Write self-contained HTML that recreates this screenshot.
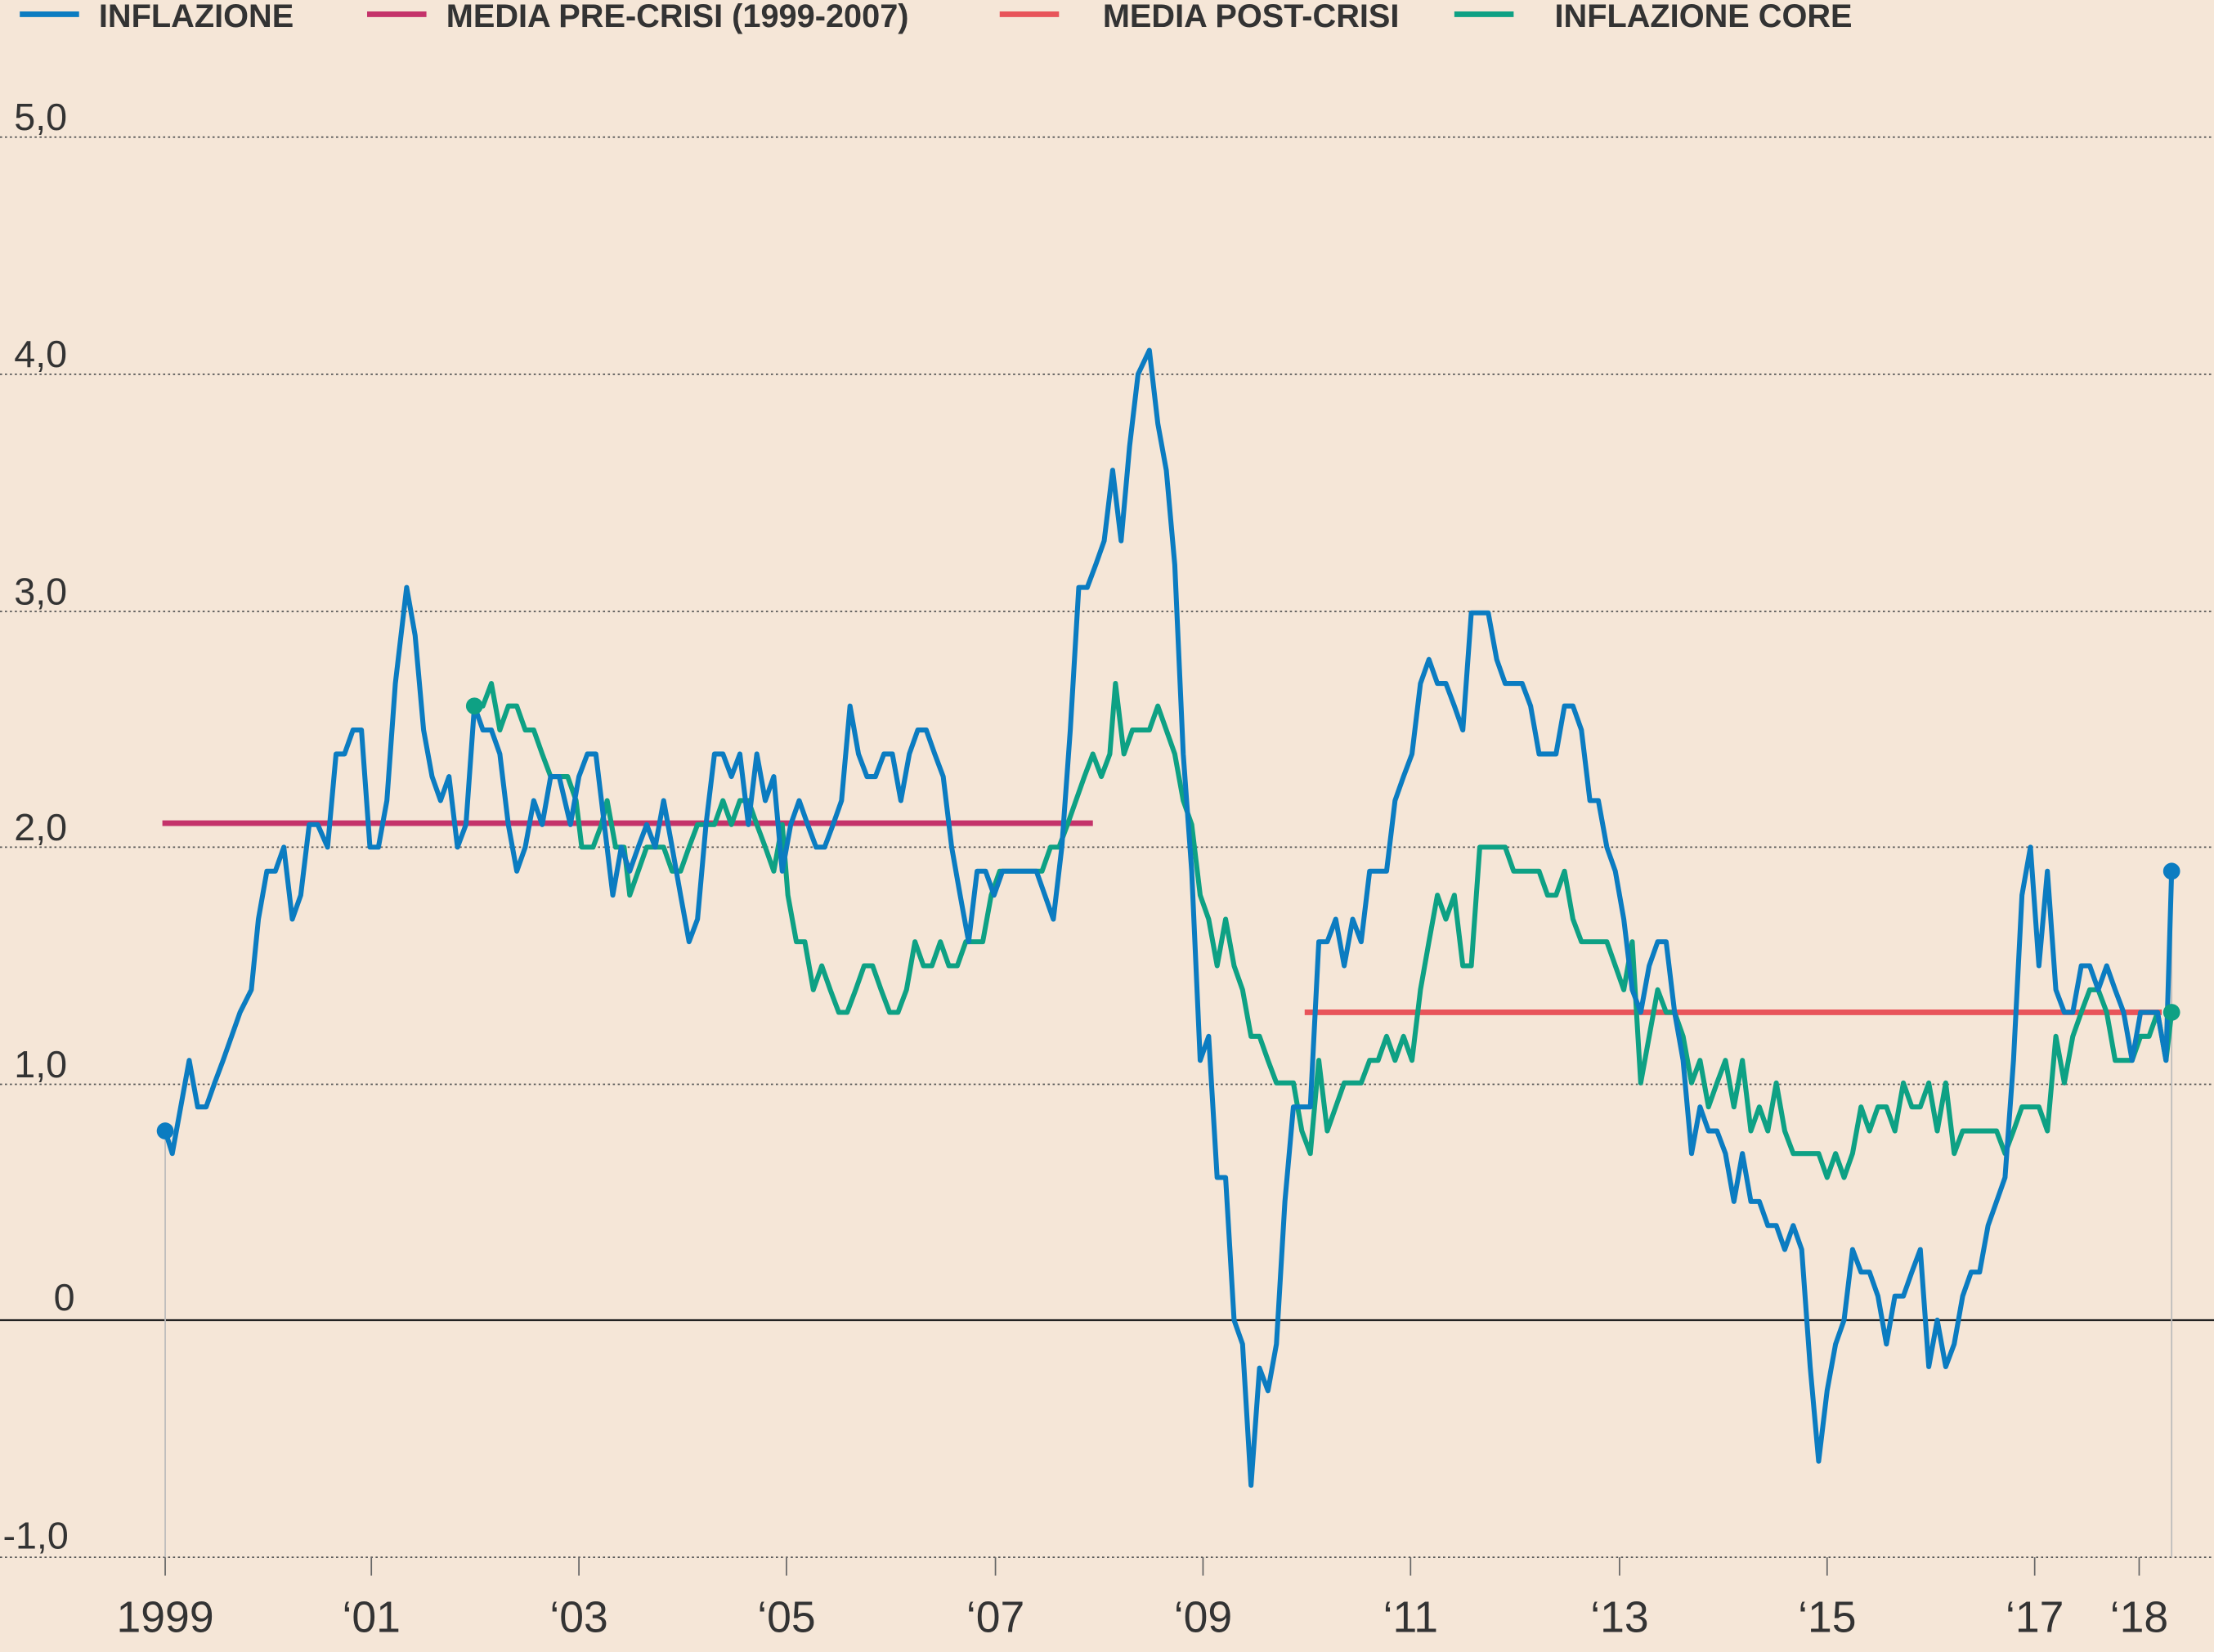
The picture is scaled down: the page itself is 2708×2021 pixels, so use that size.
<!DOCTYPE html>
<html><head><meta charset="utf-8"><style>
html,body{margin:0;padding:0;background:#f5e6d7;}
svg{display:block;}
text{font-family:"Liberation Sans",sans-serif;fill:#333;}
</style></head><body>
<svg width="2708" height="2021" viewBox="0 0 1568 1170" xmlns="http://www.w3.org/2000/svg">
<rect width="1568" height="1170" fill="#f5e6d7"/>
<g stroke="#555" stroke-width="1" stroke-dasharray="1.5,2">
<line x1="0" y1="97" x2="1568" y2="97"/><line x1="0" y1="265" x2="1568" y2="265"/>
<line x1="0" y1="433" x2="1568" y2="433"/><line x1="0" y1="600" x2="1568" y2="600"/>
<line x1="0" y1="768" x2="1568" y2="768"/><line x1="0" y1="1103" x2="1568" y2="1103"/>
</g>
<line x1="0" y1="935" x2="1568" y2="935" stroke="#222" stroke-width="1.3"/>
<g font-size="27">
<text x="10" y="92">5,0</text><text x="10" y="260">4,0</text><text x="10" y="428">3,0</text>
<text x="10" y="595">2,0</text><text x="10" y="763">1,0</text><text x="38" y="928">0</text><text x="2" y="1097">-1,0</text>
</g>
<g stroke="#666" stroke-width="1">
<line x1="117" y1="1103" x2="117" y2="1116"/><line x1="263" y1="1103" x2="263" y2="1116"/>
<line x1="410" y1="1103" x2="410" y2="1116"/><line x1="557" y1="1103" x2="557" y2="1116"/>
<line x1="705" y1="1103" x2="705" y2="1116"/><line x1="852" y1="1103" x2="852" y2="1116"/>
<line x1="999" y1="1103" x2="999" y2="1116"/><line x1="1147" y1="1103" x2="1147" y2="1116"/>
<line x1="1294" y1="1103" x2="1294" y2="1116"/><line x1="1441" y1="1103" x2="1441" y2="1116"/>
<line x1="1515" y1="1103" x2="1515" y2="1116"/>
</g>
<g stroke="#bbb" stroke-width="1"><line x1="117" y1="801" x2="117" y2="1103"/><line x1="1538" y1="617" x2="1538" y2="1103"/></g>
<g font-size="31" text-anchor="middle">
<text x="117" y="1156">1999</text><text x="263" y="1156">‘01</text><text x="410" y="1156">‘03</text>
<text x="557" y="1156">‘05</text><text x="705" y="1156">‘07</text><text x="852" y="1156">‘09</text>
<text x="999" y="1156">‘11</text><text x="1147" y="1156">‘13</text><text x="1294" y="1156">‘15</text>
<text x="1441" y="1156">‘17</text><text x="1515" y="1156">‘18</text>
</g>
<g font-size="23" font-weight="600" fill="#333">
<line x1="14" y1="10" x2="56" y2="10" stroke="#0b7cc1" stroke-width="4"/><text x="70" y="19">INFLAZIONE</text>
<line x1="260" y1="10" x2="302" y2="10" stroke="#c4336a" stroke-width="4"/><text x="316" y="19">MEDIA PRE-CRISI (1999-2007)</text>
<line x1="708" y1="10" x2="750" y2="10" stroke="#e8545a" stroke-width="4"/><text x="781" y="19">MEDIA POST-CRISI</text>
<line x1="1030" y1="10" x2="1072" y2="10" stroke="#0ea184" stroke-width="4"/><text x="1101" y="19">INFLAZIONE CORE</text>
</g>
<line x1="115" y1="583" x2="774" y2="583" stroke="#c4336a" stroke-width="4"/>
<line x1="924" y1="717" x2="1531" y2="717" stroke="#e8545a" stroke-width="4"/>
<polyline fill="none" stroke="#0ea184" stroke-width="3.5" stroke-linejoin="round" points="336,500 342,500 348,484 354,517 360,500 366,500 372,517 378,517 384,534 390,550 396,550 402,550 408,567 412,600 420,600 426,584 430,567 436,600 442,600 446,634 452,617 458,600 464,600 470,600 476,617 482,617 488,600 494,584 500,584 506,584 512,567 518,584 524,567 530,567 536,584 542,600 548,617 554,584 558,634 564,667 570,667 576,701 582,684 588,701 594,717 600,717 606,701 612,684 618,684 624,701 630,717 636,717 642,701 648,667 654,684 660,684 666,667 672,684 678,684 684,667 690,667 696,667 702,634 708,617 714,617 720,617 726,617 732,617 738,617 744,600 750,600 756,584 762,567 768,550 774,534 780,550 786,534 790,484 796,534 802,517 808,517 814,517 820,500 826,517 832,534 838,567 844,584 850,634 856,651 862,684 868,651 874,684 880,701 886,734 892,734 898,751 904,767 910,767 916,767 922,801 928,817 934,751 940,801 946,784 952,767 958,767 964,767 970,751 976,751 982,734 988,751 994,734 1000,751 1006,701 1012,667 1018,634 1024,651 1030,634 1036,684 1042,684 1048,600 1054,600 1060,600 1066,600 1072,617 1078,617 1084,617 1090,617 1096,634 1102,634 1108,617 1114,651 1120,667 1126,667 1132,667 1138,667 1144,684 1150,701 1156,667 1162,767 1168,734 1174,701 1180,717 1186,717 1192,734 1198,767 1204,751 1210,784 1216,767 1222,751 1228,784 1234,751 1240,801 1246,784 1252,801 1258,767 1264,801 1270,817 1276,817 1282,817 1288,817 1294,834 1300,817 1306,834 1312,817 1318,784 1324,801 1330,784 1336,784 1342,801 1348,767 1354,784 1360,784 1366,767 1372,801 1378,767 1384,817 1390,801 1396,801 1402,801 1408,801 1414,801 1420,817 1426,801 1432,784 1438,784 1444,784 1450,801 1456,734 1462,767 1468,734 1474,717 1480,701 1486,701 1492,717 1498,751 1504,751 1510,751 1516,734 1522,734 1528,717 1534,751 1538,717"/>
<polyline fill="none" stroke="#0b7cc1" stroke-width="3.5" stroke-linejoin="round" points="117,801 122,817 128,784 134,751 140,784 146,784 152,767 158,751 164,734 170,717 178,701 183,651 189,617 195,617 201,600 207,651 213,634 219,584 225,584 232,600 238,534 244,534 250,517 256,517 262,600 268,600 274,567 280,484 288,416 294,450 300,517 306,550 312,567 318,550 324,600 330,584 336,500 342,517 348,517 354,534 360,584 366,617 372,600 378,567 384,584 390,550 396,550 404,584 410,550 416,534 422,534 428,584 434,634 440,600 446,617 452,600 458,584 464,600 470,567 476,600 482,634 488,667 494,651 500,584 506,534 512,534 518,550 524,534 530,584 536,534 542,567 548,550 554,617 560,584 566,567 572,584 578,600 584,600 590,584 596,567 602,500 608,534 614,550 620,550 626,534 632,534 638,567 644,534 650,517 656,517 662,534 668,550 674,600 680,634 686,667 692,617 698,617 704,634 710,617 716,617 722,617 728,617 734,617 740,634 746,651 752,600 758,517 764,416 770,416 776,400 782,383 788,333 794,383 800,316 806,265 814,248 820,300 826,333 832,400 838,534 844,617 850,751 856,734 862,834 868,834 874,935 880,952 886,1052 892,969 898,985 904,952 910,851 916,784 922,784 928,784 934,667 940,667 946,651 952,684 958,651 964,667 970,617 976,617 982,617 988,567 994,550 1000,534 1006,484 1012,467 1018,484 1024,484 1030,500 1036,517 1042,434 1048,434 1054,434 1060,467 1066,484 1072,484 1078,484 1084,500 1090,534 1096,534 1102,534 1108,500 1114,500 1120,517 1126,567 1132,567 1138,600 1144,617 1150,651 1156,701 1162,717 1168,684 1174,667 1180,667 1186,717 1192,751 1198,817 1204,784 1210,801 1216,801 1222,817 1228,851 1234,817 1240,851 1246,851 1252,868 1258,868 1264,885 1270,868 1276,885 1282,968 1288,1035 1294,985 1300,952 1306,935 1312,885 1318,901 1324,901 1330,918 1336,952 1342,918 1348,918 1354,901 1360,885 1366,968 1372,935 1378,968 1384,952 1390,918 1396,901 1402,901 1408,868 1414,851 1420,834 1426,751 1432,634 1438,600 1444,684 1450,617 1456,701 1462,717 1468,717 1474,684 1480,684 1486,701 1492,684 1498,701 1504,717 1510,751 1516,717 1522,717 1528,717 1534,751 1538,617"/>
<circle cx="117" cy="801" r="6" fill="#0b7cc1"/><circle cx="1538" cy="617" r="6" fill="#0b7cc1"/>
<circle cx="336" cy="500" r="6" fill="#0ea184"/><circle cx="1538" cy="717" r="6" fill="#0ea184"/>
</svg>
</body></html>
